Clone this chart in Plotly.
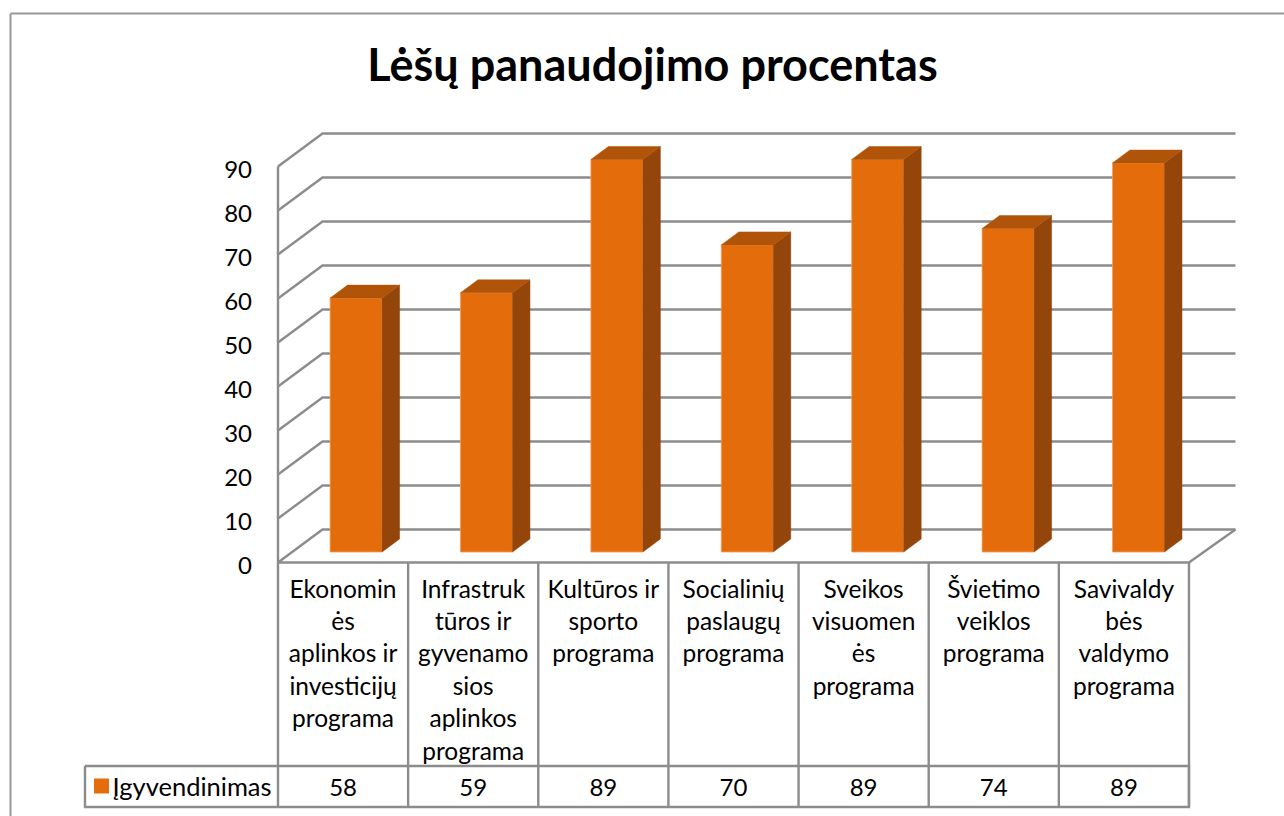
import plotly.graph_objects as go

title = "Lėšų panaudojimo procentas"
series_name = "Įgyvendinimas"
category_lines = [
    ["Ekonomin", "ės", "aplinkos ir", "investicijų", "programa"],
    ["Infrastruk", "tūros ir", "gyvenamo", "sios", "aplinkos", "programa"],
    ["Kultūros ir", "sporto", "programa"],
    ["Socialinių", "paslaugų", "programa"],
    ["Sveikos", "visuomen", "ės", "programa"],
    ["Švietimo", "veiklos", "programa"],
    ["Savivaldy", "bės", "valdymo", "programa"],
]
values = [57.7, 58.9, 89.2, 69.8, 89.2, 73.5, 88.4]
table_values = ["58", "59", "89", "70", "89", "74", "89"]
y_ticks = [0, 10, 20, 30, 40, 50, 60, 70, 80, 90]

W, H = 1284, 816
UNIT_X = 130.14      # px per category
UNIT_Y = 4.4         # px per value unit
LEFT = 278.0
ZERO = 562.5
n = len(values)

x_range = [-LEFT / UNIT_X, (W - LEFT) / UNIT_X]
y_range = [-(H - ZERO) / UNIT_Y, ZERO / UNIT_Y]

# 3D projection depths, in axis units
WALL_DX, WALL_DY = 44.5 / UNIT_X, 33 / UNIT_Y
WALL_END = n + 46.5 / UNIT_X
BAR_DX, BAR_DY = 17.5 / UNIT_X, 13 / UNIT_Y
BAR_W = 52.0 / UNIT_X
BAR_OFF = 0.60
BAR_STEP = 1.002
BAR_LIFT = 10.5 / UNIT_Y

# Table rows in axis units
ROW_LINE = -(766 - ZERO) / UNIT_Y
TABLE_BOTTOM = -(807 - ZERO) / UNIT_Y
LEGEND_LEFT = -(LEFT - 85) / UNIT_X
FIRST_LINE = -(591.5 - ZERO) / UNIT_Y
LINE_STEP = 32.4 / UNIT_Y
VALUE_ROW = -(789.5 - ZERO) / UNIT_Y
KEY_ROW = -(786 - ZERO) / UNIT_Y

GRID = "#8c8c8c"
FRONT, SIDE, TOP = "#E46C0A", "#94450A", "#B0540A"
TEXT_FONT = "Lato, Carlito, Calibri, sans-serif"
FS = 24.5
FS_LEGEND = 25.5
FS_NUM = 24

fig = go.Figure()

# walls: gridlines on side wall and back wall, kept beneath the bars
grid_shapes = []
for t in y_ticks:
    path = f"M 0 {t} L {WALL_DX} {t + WALL_DY} L {WALL_END} {t + WALL_DY}"
    grid_shapes.append(dict(type="path", path=path, xref="x", yref="y", layer="below",
                            line=dict(color=GRID, width=2.4)))
grid_shapes.append(dict(type="line", xref="x", yref="y", layer="below",
                        x0=n, x1=WALL_END, y0=0, y1=WALL_DY,
                        line=dict(color=GRID, width=2.4)))

# axis line, floor front edge, table rules
rx = [0, 0, None, 0, n, None, LEGEND_LEFT, n, n, LEGEND_LEFT, LEGEND_LEFT, None]
ry = [y_ticks[-1], TABLE_BOTTOM, None, 0, 0, None,
      ROW_LINE, ROW_LINE, TABLE_BOTTOM, TABLE_BOTTOM, ROW_LINE, None]
for i in range(1, n + 1):
    rx += [i, i, None]
    ry += [0, TABLE_BOTTOM, None]
fig.add_trace(go.Scatter(x=rx, y=ry, mode="lines", line=dict(color=GRID, width=2.4),
                         hoverinfo="skip", showlegend=False))

# bars: side and top faces derived from values
sx, sy, tx, ty = [], [], [], []
centres = [i * BAR_STEP + BAR_OFF for i in range(n)]
for c, v in zip(centres, values):
    r = c + BAR_W / 2
    l = c - BAR_W / 2
    b, t = BAR_LIFT, BAR_LIFT + v
    sx += [r, r + BAR_DX, r + BAR_DX, r, r, None]
    sy += [b, b + BAR_DY, t + BAR_DY, t, b, None]
    tx += [l, l + BAR_DX, r + BAR_DX, r, l, None]
    ty += [t, t + BAR_DY, t + BAR_DY, t, t, None]
fig.add_trace(go.Scatter(x=sx, y=sy, mode="lines", fill="toself", fillcolor=SIDE,
                         line=dict(color=SIDE, width=0.5), hoverinfo="skip", showlegend=False))
fig.add_trace(go.Scatter(x=tx, y=ty, mode="lines", fill="toself", fillcolor=TOP,
                         line=dict(color=TOP, width=0.5), hoverinfo="skip", showlegend=False))
fig.add_trace(go.Bar(x=centres, y=values, base=BAR_LIFT, width=BAR_W, name=series_name,
                     marker=dict(color=FRONT, line=dict(color="#F0A060", width=0.8)),
                     showlegend=False))

# category text, one text point per wrapped line
cx, cy, ct = [], [], []
for i, lines in enumerate(category_lines):
    for k, s in enumerate(lines):
        cx.append(i + 0.5)
        cy.append(FIRST_LINE - k * LINE_STEP)
        ct.append(s)
fig.add_trace(go.Scatter(x=cx, y=cy, text=ct, mode="text", textposition="middle center",
                         textfont=dict(family=TEXT_FONT, size=FS, color="#000"),
                         hoverinfo="skip", showlegend=False, cliponaxis=False))

# table value row
fig.add_trace(go.Scatter(x=[i + 0.5 for i in range(n)], y=[VALUE_ROW] * n, text=table_values,
                         mode="text", textposition="middle center",
                         textfont=dict(family=TEXT_FONT, size=FS_NUM, color="#000"),
                         hoverinfo="skip", showlegend=False))

# legend key and label
fig.add_trace(go.Scatter(x=[-(LEFT - 101.5) / UNIT_X], y=[KEY_ROW], mode="markers",
                         marker=dict(symbol="square", size=15, color=FRONT),
                         hoverinfo="skip", showlegend=False))
fig.add_trace(go.Scatter(x=[-(LEFT - 112.5) / UNIT_X], y=[VALUE_ROW], text=[series_name],
                         mode="text", textposition="middle right",
                         textfont=dict(family=TEXT_FONT, size=FS_LEGEND, color="#000"),
                         hoverinfo="skip", showlegend=False))

fig.update_layout(
    width=W, height=H, margin=dict(l=0, r=0, t=0, b=0),
    paper_bgcolor="white", plot_bgcolor="white", showlegend=False,
    title=dict(text=title, x=652.5 / W, xanchor="center", y=1 - 65 / H, yanchor="middle",
               font=dict(family=TEXT_FONT, size=45, color="#000", weight="bold")),
    xaxis=dict(domain=[0, 1], range=x_range, showgrid=False, zeroline=False, showline=False,
               showticklabels=False, ticks=""),
    yaxis=dict(domain=[0, 1], range=y_range, showgrid=False, zeroline=False, showline=False,
               tickmode="array", tickvals=y_ticks, ticktext=[str(t) for t in y_ticks],
               ticks="", ticklabelposition="outside", automargin=False, ticklabelshift=3,
               anchor="free", position=(LEFT - 26) / W,
               tickfont=dict(family=TEXT_FONT, size=FS_NUM, color="#000")),
    shapes=grid_shapes + [
        dict(type="line", xref="paper", yref="paper", x0=10.5 / W, x1=1, y0=1 - 13.5 / H, y1=1 - 13.5 / H,
             line=dict(color="#999999", width=2)),
        dict(type="line", xref="paper", yref="paper", x0=10.5 / W, x1=10.5 / W, y0=0, y1=1 - 13.5 / H,
             line=dict(color="#999999", width=2)),
    ],
)

fig.write_html("out.html", config=dict(displayModeBar=False),
               post_script="document.body.style.margin='0';document.body.style.overflow='hidden';")
